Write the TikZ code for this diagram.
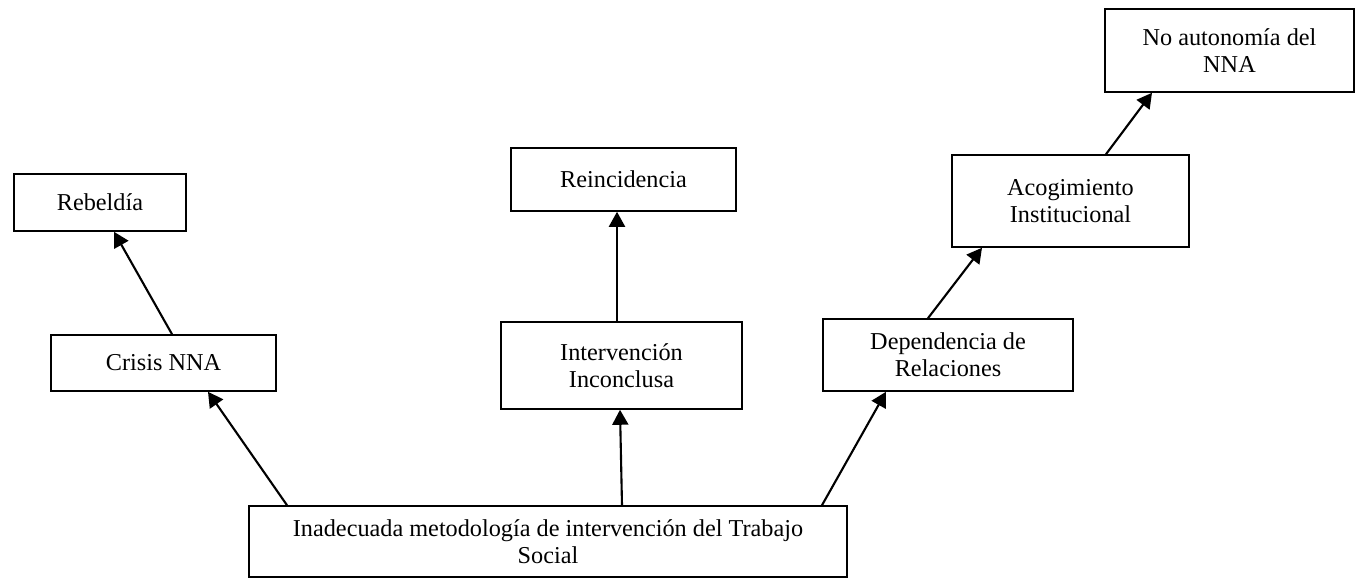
\documentclass[tikz,border=0pt]{standalone}
\usepackage{fontspec}
\setmainfont{Liberation Serif}
\usetikzlibrary{arrows.meta,positioning,calc}

\begin{document}
\begin{tikzpicture}
    [ box/.style={draw, line width=0.9pt, align=center, inner sep=2pt,
                  font=\fontsize{13.8}{15.6}\selectfont}
    , arrow/.style={line width=1.2pt, -{Triangle[length=0.3cm, width=0.32cm]}}
    ]
  \useasboundingbox (0,0) rectangle (27.12,11.58);

  % causa
  \node[box, minimum width=11.96cm, minimum height=1.42cm] (base) at (10.96,0.75)
    {Inadecuada metodología de intervención del Trabajo\\Social};

  % efectos
  \node[box, minimum width=4.50cm, minimum height=1.12cm] (crisis) at (3.27,4.32) {Crisis NNA};
  \node[box, minimum width=3.44cm, minimum height=1.14cm] (rebeldia) at (2.00,7.53) {Rebeldía};
  \node[box, minimum width=4.82cm, minimum height=1.74cm] (intervencion) at (12.43,4.27)
    {Intervención\\Inconclusa};
  \node[box, minimum width=4.50cm, minimum height=1.26cm] (reincidencia) at (12.47,7.99) {Reincidencia};
  \node[box, minimum width=5.00cm, minimum height=1.44cm] (dependencia) at (18.96,4.48)
    {Dependencia de\\Relaciones};
  \node[box, minimum width=4.74cm, minimum height=1.84cm] (acogimiento) at (21.41,7.56)
    {Acogimiento\\Institucional};
  \node[box, minimum width=4.98cm, minimum height=1.66cm] (noautonomia) at (24.59,10.57)
    {No autonomía del\\NNA};

  \draw[arrow] ([xshift=-5.22cm]base.north) -- ([xshift=0.89cm]crisis.south);
  \draw[arrow] ([xshift=0.17cm]crisis.north) -- ([xshift=0.28cm]rebeldia.south);
  \draw[arrow] ([xshift=1.48cm]base.north) -- ([xshift=-0.03cm]intervencion.south);
  \draw[arrow] ([xshift=-0.09cm]intervencion.north) -- ([xshift=-0.13cm]reincidencia.south);
  \draw[arrow] ([xshift=5.48cm]base.north) -- ([xshift=-1.24cm]dependencia.south);
  \draw[arrow] ([xshift=-0.40cm]dependencia.north) -- ([xshift=-1.77cm]acogimiento.south);
  \draw[arrow] ([xshift=0.71cm]acogimiento.north) -- ([xshift=-1.55cm]noautonomia.south);
\end{tikzpicture}
\end{document}
